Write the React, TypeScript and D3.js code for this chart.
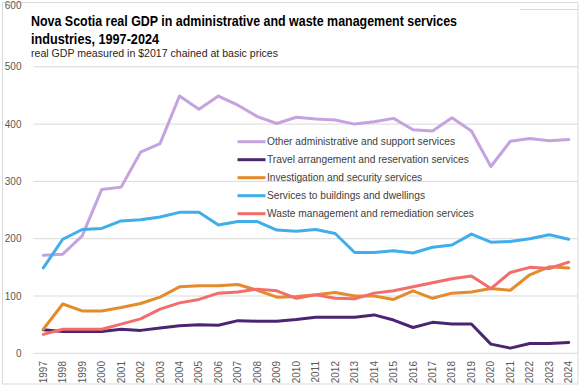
import * as d3 from 'd3';

const W = 581, H = 390;
const X0 = 43.3, X1 = 568.7;     // centres of first and last category
const Y0 = 353.3, Y600 = 9.5;    // pixel rows of 0 and 600
const GRID_L = 33.5, GRID_R = 578;

const YEARS = d3.range(1997, 2025).map(String);
const Y_TICKS = [0, 100, 200, 300, 400, 500, 600];

const OTHER = [171, 173, 205, 286, 290, 351, 366, 449, 426, 449, 433, 413, 401, 412, 409, 407, 400, 404, 410, 390, 388, 411, 388, 326, 370, 375, 371, 373];
const TRAVEL = [41, 38, 38, 38, 42, 40, 44, 48, 50, 49, 57, 56, 56, 59, 63, 63, 63, 67, 58, 45, 54, 51, 51, 16, 9, 17, 17, 19];
const INVESTIGATION = [42, 86, 74, 74, 80, 87, 98, 116, 118, 118, 120, 110, 98, 99, 102, 106, 100, 100, 94, 109, 96, 105, 107, 113, 110, 137, 151, 149];
const BUILDINGS = [149, 199, 216, 218, 231, 233, 238, 246, 246, 224, 230, 230, 215, 213, 216, 209, 176, 176, 179, 175, 185, 189, 208, 194, 195, 200, 207, 199];
const WASTE = [33, 42, 42, 42, 51, 60, 77, 88, 94, 105, 107, 112, 109, 96, 102, 96, 95, 105, 109, 116, 123, 130, 135, 113, 141, 150, 148, 159];

const SERIES = [
  { name: 'Other administrative and support services', color: '#C5A3DF', values: OTHER },
  { name: 'Travel arrangement and reservation services', color: '#4B2670', values: TRAVEL },
  { name: 'Investigation and security services', color: '#E48B2B', values: INVESTIGATION },
  { name: 'Services to buildings and dwellings', color: '#40AEEB', values: BUILDINGS },
  { name: 'Waste management and remediation services', color: '#F26E6A', values: WASTE },
];

const FONT = "'Liberation Sans Narrow', 'Liberation Sans', Arial, sans-serif";
const AXIS_FONT = "'Liberation Sans', Arial, sans-serif";

export default function App() {
  const x = d3.scalePoint<string>().domain(YEARS).range([X0, X1]);
  const y = d3.scaleLinear().domain([0, 600]).range([Y0, Y600]);
  const line = d3.line<number>().x((_, i) => x(YEARS[i]) ?? 0).y(v => y(v));

  return (
    <div style={{ position: 'absolute', left: 0, top: 0 }}>
      <svg width={W} height={H} viewBox={`0 0 ${W} ${H}`} style={{ display: 'block', background: '#fff' }}>
        <rect x={2.5} y={2.5} width={575.5} height={381.5} fill="#fff" stroke="#d9d9d9" />

        {/* gridlines */}
        {Y_TICKS.map(t => (
          <line key={t} x1={GRID_L} x2={GRID_R} y1={y(t)} y2={y(t)} stroke="#d9d9d9" strokeWidth={1} />
        ))}

        {/* x tick labels, rotated */}
        {YEARS.map(yr => (
          <text key={yr} transform={`translate(${x(yr)},361) rotate(-90)`} dy="0.35em" textAnchor="end"
            fontFamily={AXIS_FONT} fontSize={10} fill="#595959">{yr}</text>
        ))}

        {/* series */}
        {SERIES.map(s => (
          <path key={s.name} d={line(s.values) ?? ''} fill="none" stroke={s.color}
            strokeWidth={3} strokeLinejoin="round" strokeLinecap="round" />
        ))}

        {/* title block sits on a white box over the top gridline */}
        <rect x={26} y={5} width={494} height={56} fill="#fff" />
        <text x={31} y={26} fontFamily={FONT} fontWeight={700} fontSize={15} fill="#000"
          textLength={426} lengthAdjust="spacingAndGlyphs">
          Nova Scotia real GDP in administrative and waste management services
        </text>
        <text x={31} y={43.5} fontFamily={FONT} fontWeight={700} fontSize={15} fill="#000"
          textLength={128} lengthAdjust="spacingAndGlyphs">
          industries, 1997-2024
        </text>
        <text x={31} y={57} fontFamily={FONT} fontSize={11} fill="#262626"
          textLength={247} lengthAdjust="spacingAndGlyphs">
          real GDP measured in $2017 chained at basic prices
        </text>

        {/* y tick labels drawn last; the 600 label is nudged down to stay inside the frame */}
        {Y_TICKS.map(t => (
          <text key={t} x={21.5} y={t === 600 ? 5 : y(t)} dy="0.35em" textAnchor="end"
            fontFamily={AXIS_FONT} fontSize={10} fill="#595959">{t}</text>
        ))}

        {/* legend */}
        {SERIES.map((s, i) => (
          <g key={s.name} transform={`translate(237.5,${141.7 + i * 18})`}>
            <line x1={0} x2={28} y1={0} y2={0} stroke={s.color} strokeWidth={3} />
            <text x={29.5} y={0} dy="0.35em" fontFamily={FONT} fontSize={10.2} fill="#404040">{s.name}</text>
          </g>
        ))}
      </svg>
    </div>
  );
}
